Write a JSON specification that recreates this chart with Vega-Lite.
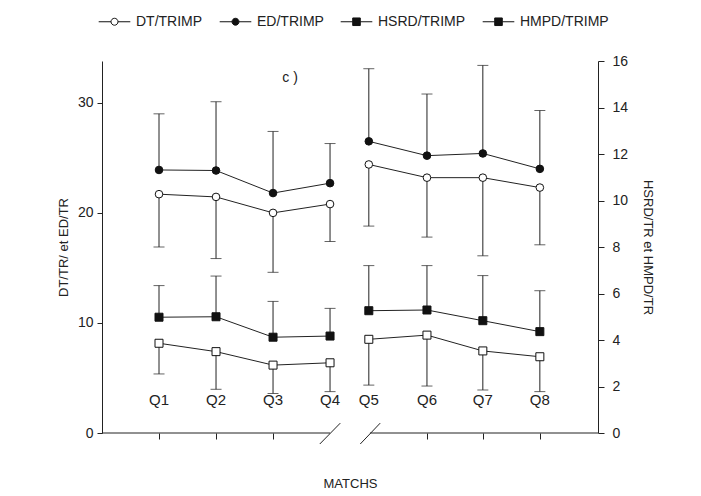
{
  "$schema": "https://vega.github.io/schema/vega-lite/v6.json",
  "width": 496,
  "height": 372,
  "autosize": {"type": "none"},
  "padding": {"left": 102, "top": 61, "right": 103, "bottom": 63},
  "background": "white",
  "config": {
    "font": "Liberation Sans",
    "view": {"stroke": null},
    "axis": {"grid": false, "domainColor": "#222", "tickColor": "#222", "labelColor": "#222", "titleColor": "#222", "labelFont": "Liberation Sans", "titleFont": "Liberation Sans", "titleFontWeight": "normal", "labelFontSize": 14, "titleFontSize": 13},
    "legend": {"labelFont": "Liberation Sans", "labelColor": "#222"}
  },
  "datasets": {
    "left": [
      {"q": "Q1", "pos": 1.0, "part": 1, "series": "DT/TRIMP", "mean": 21.7, "err": 16.9},
      {"q": "Q2", "pos": 2.0, "part": 1, "series": "DT/TRIMP", "mean": 21.45, "err": 15.85},
      {"q": "Q3", "pos": 3.0, "part": 1, "series": "DT/TRIMP", "mean": 20.0, "err": 14.6},
      {"q": "Q4", "pos": 4.0, "part": 1, "series": "DT/TRIMP", "mean": 20.8, "err": 17.4},
      {"q": "Q5", "pos": 4.68, "part": 2, "series": "DT/TRIMP", "mean": 24.4, "err": 18.8},
      {"q": "Q6", "pos": 5.7, "part": 2, "series": "DT/TRIMP", "mean": 23.2, "err": 17.8},
      {"q": "Q7", "pos": 6.68, "part": 2, "series": "DT/TRIMP", "mean": 23.2, "err": 16.1},
      {"q": "Q8", "pos": 7.68, "part": 2, "series": "DT/TRIMP", "mean": 22.3, "err": 17.1},
      {"q": "Q1", "pos": 1.0, "part": 1, "series": "ED/TRIMP", "mean": 23.9, "err": 29.0},
      {"q": "Q2", "pos": 2.0, "part": 1, "series": "ED/TRIMP", "mean": 23.85, "err": 30.1},
      {"q": "Q3", "pos": 3.0, "part": 1, "series": "ED/TRIMP", "mean": 21.8, "err": 27.4},
      {"q": "Q4", "pos": 4.0, "part": 1, "series": "ED/TRIMP", "mean": 22.7, "err": 26.3},
      {"q": "Q5", "pos": 4.68, "part": 2, "series": "ED/TRIMP", "mean": 26.5, "err": 33.1},
      {"q": "Q6", "pos": 5.7, "part": 2, "series": "ED/TRIMP", "mean": 25.2, "err": 30.8},
      {"q": "Q7", "pos": 6.68, "part": 2, "series": "ED/TRIMP", "mean": 25.4, "err": 33.4},
      {"q": "Q8", "pos": 7.68, "part": 2, "series": "ED/TRIMP", "mean": 24.0, "err": 29.3}
    ],
    "right": [
      {"q": "Q1", "pos": 1.0, "part": 1, "series": "HSRD/TRIMP", "mean": 4.98, "err": 6.34},
      {"q": "Q2", "pos": 2.0, "part": 1, "series": "HSRD/TRIMP", "mean": 5.0, "err": 6.75},
      {"q": "Q3", "pos": 3.0, "part": 1, "series": "HSRD/TRIMP", "mean": 4.12, "err": 5.66},
      {"q": "Q4", "pos": 4.0, "part": 1, "series": "HSRD/TRIMP", "mean": 4.17, "err": 5.36},
      {"q": "Q5", "pos": 4.68, "part": 2, "series": "HSRD/TRIMP", "mean": 5.26, "err": 7.2},
      {"q": "Q6", "pos": 5.7, "part": 2, "series": "HSRD/TRIMP", "mean": 5.29, "err": 7.2},
      {"q": "Q7", "pos": 6.68, "part": 2, "series": "HSRD/TRIMP", "mean": 4.83, "err": 6.77},
      {"q": "Q8", "pos": 7.68, "part": 2, "series": "HSRD/TRIMP", "mean": 4.36, "err": 6.12},
      {"q": "Q1", "pos": 1.0, "part": 1, "series": "HMPD/TRIMP", "mean": 3.86, "err": 2.54},
      {"q": "Q2", "pos": 2.0, "part": 1, "series": "HMPD/TRIMP", "mean": 3.5, "err": 1.88},
      {"q": "Q3", "pos": 3.0, "part": 1, "series": "HMPD/TRIMP", "mean": 2.92, "err": 1.7},
      {"q": "Q4", "pos": 4.0, "part": 1, "series": "HMPD/TRIMP", "mean": 3.02, "err": 1.78},
      {"q": "Q5", "pos": 4.68, "part": 2, "series": "HMPD/TRIMP", "mean": 4.03, "err": 2.06},
      {"q": "Q6", "pos": 5.7, "part": 2, "series": "HMPD/TRIMP", "mean": 4.21, "err": 2.02},
      {"q": "Q7", "pos": 6.68, "part": 2, "series": "HMPD/TRIMP", "mean": 3.53, "err": 1.85},
      {"q": "Q8", "pos": 7.68, "part": 2, "series": "HMPD/TRIMP", "mean": 3.28, "err": 1.78}
    ],
    "legendkeys": [
      {"series": "DT/TRIMP", "pos": 1.0, "mean": 10},
      {"series": "ED/TRIMP", "pos": 1.0, "mean": 10},
      {"series": "HSRD/TRIMP", "pos": 1.0, "mean": 10},
      {"series": "HMPD/TRIMP", "pos": 1.0, "mean": 10}
    ],
    "labels": [
      {"q": "Q1", "pos": 1.0}, {"q": "Q2", "pos": 2.0}, {"q": "Q3", "pos": 3.0}, {"q": "Q4", "pos": 4.0},
      {"q": "Q5", "pos": 4.68}, {"q": "Q6", "pos": 5.7}, {"q": "Q7", "pos": 6.68}, {"q": "Q8", "pos": 7.68}
    ],
    "axisline": [{"pos": 0, "pos2": 4.0}, {"pos": 4.7, "pos2": 8.7}],
    "slash": [
      {"pos": 3.82, "pos2": 4.18, "v": -1.0, "v2": 0.9},
      {"pos": 4.53, "pos2": 4.88, "v": -1.0, "v2": 0.9}
    ]
  },
  "layer": [
    {
      "layer": [
        {
          "data": {"name": "left"},
          "mark": {"type": "rule", "color": "#222", "strokeWidth": 1},
          "encoding": {
            "x": {"field": "pos", "type": "quantitative", "scale": {"domain": [0, 8.7], "nice": false, "zero": false},
                  "axis": {"values": [1, 2, 3, 5.7, 6.68, 7.68], "labels": false, "domain": false, "tickSize": 6, "title": "MATCHS", "titlePadding": 38, "titleFontSize": 13}},
            "y": {"field": "mean", "type": "quantitative", "scale": {"domain": [0, 33.8], "nice": false},
                  "axis": {"orient": "left", "values": [0, 10, 20, 30], "tickSize": 5, "labelPadding": 4, "title": "DT/TR/ et ED/TR", "titlePadding": 7}},
            "y2": {"field": "err"}
          }
        },
        {
          "data": {"name": "left"},
          "mark": {"type": "tick", "orient": "horizontal", "color": "#222", "size": 11, "thickness": 1},
          "encoding": {
            "x": {"field": "pos", "type": "quantitative", "title": "MATCHS"},
            "y": {"field": "err", "type": "quantitative", "title": "DT/TR/ et ED/TR"}
          }
        },
        {
          "data": {"name": "left"},
          "mark": {"type": "line", "color": "#222", "strokeWidth": 1},
          "encoding": {
            "x": {"field": "pos", "type": "quantitative", "title": "MATCHS"},
            "y": {"field": "mean", "type": "quantitative", "title": "DT/TR/ et ED/TR"},
            "detail": [{"field": "series"}, {"field": "part"}]
          }
        },
        {
          "data": {"name": "left"},
          "mark": {"type": "point", "shape": "circle", "stroke": "#111", "strokeWidth": 1, "size": 58, "opacity": 1},
          "encoding": {
            "x": {"field": "pos", "type": "quantitative", "title": "MATCHS"},
            "y": {"field": "mean", "type": "quantitative", "title": "DT/TR/ et ED/TR"},
            "fill": {"condition": {"test": "datum.series == 'DT/TRIMP'", "value": "white"}, "value": "#111"}
          }
        },
        {
          "data": {"name": "legendkeys"},
          "mark": {"type": "point", "strokeWidth": 1, "size": 1000, "opacity": 0},
          "encoding": {
            "x": {"field": "pos", "type": "quantitative", "title": "MATCHS"},
            "y": {"field": "mean", "type": "quantitative", "title": "DT/TR/ et ED/TR"},
            "shape": {"field": "series", "type": "nominal",
              "scale": {"domain": ["DT/TRIMP", "ED/TRIMP", "HSRD/TRIMP", "HMPD/TRIMP"],
                        "range": ["M-1,0H-0.22M0.22,0H1M0.22,0A0.22,0.22 0 1,1 -0.22,0A0.22,0.22 0 1,1 0.22,0Z",
                                  "M-1,0H-0.22M0.22,0H1M0.22,0A0.22,0.22 0 1,1 -0.22,0A0.22,0.22 0 1,1 0.22,0Z",
                                  "M-1,0H-0.24M0.24,0H1M-0.24,-0.24H0.24V0.24H-0.24Z",
                                  "M-1,0H-0.24M0.24,0H1M-0.24,-0.24H0.24V0.24H-0.24Z"]},
              "legend": {"orient": "none", "legendX": -4, "legendY": -56, "direction": "horizontal", "title": null,
                         "symbolSize": 1000, "symbolStrokeWidth": 1, "symbolStrokeColor": "#111", "symbolOpacity": 1,
                         "labelFontSize": 14, "labelOffset": 5, "columnPadding": 14}},
            "fill": {"field": "series", "type": "nominal",
              "scale": {"domain": ["DT/TRIMP", "ED/TRIMP", "HSRD/TRIMP", "HMPD/TRIMP"], "range": ["white", "#111", "#111", "#111"]},
              "legend": {"orient": "none", "legendX": -4, "legendY": -56, "direction": "horizontal", "title": null,
                         "symbolSize": 1000, "symbolStrokeWidth": 1, "symbolStrokeColor": "#111", "symbolOpacity": 1,
                         "labelFontSize": 14, "labelOffset": 5, "columnPadding": 14}},
            "stroke": {"field": "series", "type": "nominal",
              "scale": {"domain": ["DT/TRIMP", "ED/TRIMP", "HSRD/TRIMP", "HMPD/TRIMP"], "range": ["#111", "#111", "#111", "#111"]},
              "legend": {"orient": "none", "legendX": -4, "legendY": -56, "direction": "horizontal", "title": null,
                         "symbolSize": 1000, "symbolStrokeWidth": 1, "symbolStrokeColor": "#111", "symbolOpacity": 1,
                         "labelFontSize": 14, "labelOffset": 5, "columnPadding": 14}}
          }
        },
        {
          "data": {"name": "labels"},
          "mark": {"type": "text", "fontSize": 15, "color": "#222", "font": "Liberation Sans"},
          "encoding": {
            "x": {"field": "pos", "type": "quantitative", "title": "MATCHS"},
            "y": {"datum": 3.0, "type": "quantitative"},
            "text": {"field": "q"}
          }
        },
        {
          "data": {"values": [{"lab": "c )", "pos": 3.3, "v": 32.3}]},
          "mark": {"type": "text", "fontSize": 14, "color": "#222"},
          "encoding": {
            "x": {"field": "pos", "type": "quantitative", "title": "MATCHS"},
            "y": {"field": "v", "type": "quantitative", "title": "DT/TR/ et ED/TR"},
            "text": {"field": "lab"}
          }
        },
        {
          "data": {"name": "axisline"},
          "mark": {"type": "rule", "color": "#222", "strokeWidth": 1},
          "encoding": {
            "x": {"field": "pos", "type": "quantitative", "title": "MATCHS"},
            "x2": {"field": "pos2"},
            "y": {"datum": 0, "type": "quantitative"}
          }
        },
        {
          "data": {"name": "slash"},
          "mark": {"type": "rule", "color": "#222", "strokeWidth": 1, "clip": false},
          "encoding": {
            "x": {"field": "pos", "type": "quantitative", "title": "MATCHS"},
            "x2": {"field": "pos2"},
            "y": {"field": "v", "type": "quantitative", "title": "DT/TR/ et ED/TR"},
            "y2": {"field": "v2"}
          }
        }
      ]
    },
    {
      "layer": [
        {
          "data": {"name": "right"},
          "mark": {"type": "rule", "color": "#222", "strokeWidth": 1},
          "encoding": {
            "x": {"field": "pos", "type": "quantitative", "title": "MATCHS"},
            "y": {"field": "mean", "type": "quantitative", "scale": {"domain": [0, 16], "nice": false},
                  "axis": {"orient": "right", "values": [0, 2, 4, 6, 8, 10, 12, 14, 16], "tickSize": 6, "labelPadding": 8, "title": "HSRD/TR et HMPD/TR", "titlePadding": 13}},
            "y2": {"field": "err"}
          }
        },
        {
          "data": {"name": "right"},
          "mark": {"type": "tick", "orient": "horizontal", "color": "#222", "size": 11, "thickness": 1},
          "encoding": {
            "x": {"field": "pos", "type": "quantitative", "title": "MATCHS"},
            "y": {"field": "err", "type": "quantitative", "title": "HSRD/TR et HMPD/TR"}
          }
        },
        {
          "data": {"name": "right"},
          "mark": {"type": "line", "color": "#222", "strokeWidth": 1},
          "encoding": {
            "x": {"field": "pos", "type": "quantitative", "title": "MATCHS"},
            "y": {"field": "mean", "type": "quantitative", "title": "HSRD/TR et HMPD/TR"},
            "detail": [{"field": "series"}, {"field": "part"}]
          }
        },
        {
          "data": {"name": "right"},
          "mark": {"type": "point", "shape": "square", "stroke": "#111", "strokeWidth": 1, "size": 64, "opacity": 1},
          "encoding": {
            "x": {"field": "pos", "type": "quantitative", "title": "MATCHS"},
            "y": {"field": "mean", "type": "quantitative", "title": "HSRD/TR et HMPD/TR"},
            "fill": {"condition": {"test": "datum.series == 'HMPD/TRIMP'", "value": "white"}, "value": "#111"}
          }
        }
      ]
    }
  ],
  "resolve": {"scale": {"y": "independent"}}
}
